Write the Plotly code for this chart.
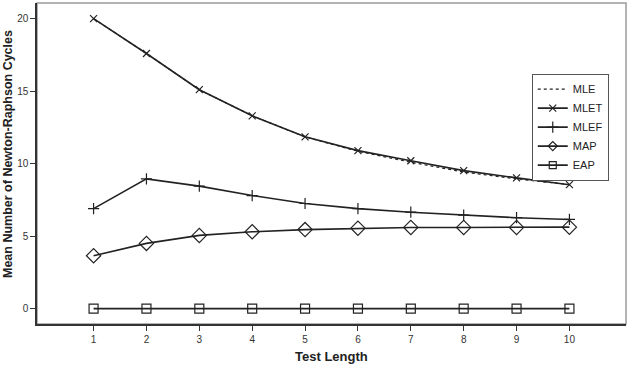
import plotly.graph_objects as go

test_length = [1, 2, 3, 4, 5, 6, 7, 8, 9, 10]
mle = [20.0, 17.6, 15.1, 13.3, 11.85, 10.85, 10.1, 9.42, 8.95, 8.55]
mlet = [20.0, 17.6, 15.1, 13.3, 11.85, 10.9, 10.2, 9.52, 9.02, 8.55]
mlef = [6.9, 8.95, 8.45, 7.8, 7.25, 6.9, 6.65, 6.45, 6.27, 6.15]
map_ = [3.65, 4.5, 5.05, 5.3, 5.45, 5.55, 5.6, 5.6, 5.6, 5.62]
eap = [0, 0, 0, 0, 0, 0, 0, 0, 0, 0]

series_names = ["MLE", "MLET", "MLEF", "MAP", "EAP"]
x_ticks = list(range(1, 11))
y_ticks = [0, 5, 10, 15, 20]

LC = "#222222"
specs = [
    (mle, None, 0, 0, dict(color=LC, width=1.2, dash="dot")),
    (mlet, "x-thin-open", 7, 7, dict(color=LC, width=1.6)),
    (mlef, "cross-thin-open", 8, 8, dict(color=LC, width=1.6)),
    (map_, "diamond-open", 11, 7, dict(color=LC, width=1.6)),
    (eap, "square-open", 9, 7, dict(color=LC, width=1.6)),
]

fig = go.Figure()
for name, (vals, sym, size, lsize, line) in zip(series_names, specs):
    mode = "lines" if sym is None else "lines+markers"
    mk = None if sym is None else dict(symbol=sym, size=size, color=LC, line=dict(color=LC, width=1.2))
    fig.add_trace(go.Scatter(x=test_length, y=vals, name=name, mode=mode, line=line,
                             marker=mk, legendgroup=name, showlegend=False))
    lmk = None if sym is None else dict(symbol=sym, size=lsize, color=LC, line=dict(color=LC, width=1.2))
    fig.add_trace(go.Scatter(x=[None], y=[None], name=name, mode=mode, line=line,
                             marker=lmk, legendgroup=name, showlegend=True))

fig.add_shape(type="rect", xref="paper", yref="paper", x0=0, x1=1, y0=0, y1=1,
              line=dict(color="#9a9a9a", width=1.5), layer="below")

fig.add_annotation(text="<b>Test Length</b>", xref="paper", yref="paper", x=0.5, y=-0.072,
                   yanchor="top", showarrow=False, font=dict(size=13, color="#222222"))
fig.add_annotation(text="<b>Mean Number of Newton-Raphson Cycles</b>", xref="paper", yref="paper",
                   x=-0.049, y=0.53, xanchor="center", yanchor="middle", textangle=-90, showarrow=False,
                   font=dict(size=12.5, color="#222222"))

fig.update_layout(
    width=630, height=365,
    margin=dict(l=37, r=4, t=3, b=41, autoexpand=False),
    paper_bgcolor="white", plot_bgcolor="white",
    font=dict(family="Liberation Sans, Arial, sans-serif", color="#333333", size=10),
    showlegend=True,
    legend=dict(x=0.84, y=0.78, xanchor="left", yanchor="top",
                bgcolor="white", bordercolor="#555555", borderwidth=1,
                font=dict(size=11, color="#222222"),
                tracegroupgap=0, itemwidth=30),
    xaxis=dict(range=[-0.07, 11.07], tickvals=x_ticks, ticktext=[str(v) for v in x_ticks],
               showgrid=False, zeroline=False, showline=True, linecolor="#333333", linewidth=1.5,
               ticks="outside", ticklen=5, tickcolor="#333333", automargin=False),
    yaxis=dict(range=[-1.06, 21.08], tickvals=y_ticks, ticktext=[str(v) for v in y_ticks],
               showgrid=False, zeroline=False, showline=True, linecolor="#333333", linewidth=1.5,
               ticks="outside", ticklen=5, tickcolor="#333333", automargin=False),
)

fig.write_html("out.html", config={"displayModeBar": False},
               post_script="document.body.style.margin='0';document.body.style.padding='0';document.body.style.overflow='hidden';")
